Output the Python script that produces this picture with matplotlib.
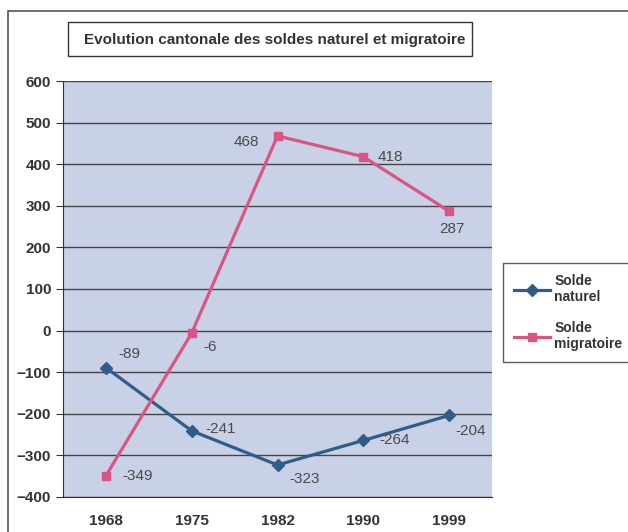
import matplotlib.pyplot as plt
from matplotlib.patches import Rectangle

plt.rcParams['font.family'] = ['Liberation Sans', 'DejaVu Sans']

annees = ['1968', '1975', '1982', '1990', '1999']
solde_naturel = [-89, -241, -323, -264, -204]
solde_migratoire = [-349, -6, 468, 418, 287]

# label offsets in pixels (dx, dy) for each point
off_nat = [(12, 14), (14, 2), (12, -14), (16, 0), (6, -16)]
off_mig = [(16, 0), (12, -14), (-44, -6), (14, 0), (-10, -18)]

W, H = 628, 532
fig = plt.figure(figsize=(W / 100, H / 100), dpi=100)
fig.patch.set_facecolor('white')

# outer frame
fig.patches.append(Rectangle((8 / W, -0.01), 1.0, 1 - 11 / H + 0.01,
                             transform=fig.transFigure, fill=False,
                             edgecolor='#555555', linewidth=1.2))
# title box
fig.patches.append(Rectangle((68 / W, 1 - 56 / H), (472 - 68) / W, 34 / H,
                             transform=fig.transFigure, fill=False,
                             edgecolor='#333333', linewidth=1.0))
fig.text(275 / W, 1 - 40 / H, 'Evolution cantonale des soldes naturel et migratoire',
         ha='center', va='center', fontsize=11, fontweight='bold', color='#333333')

ax = fig.add_axes([63 / W, 35 / H, (492 - 63) / W, (497 - 81) / H])
ax.set_facecolor('#c9d1e6')

x = list(range(len(annees)))
ax.plot(x, solde_naturel, color='#2f5d88', linewidth=2.3, marker='D', markersize=6,
        label='Solde\nnaturel', zorder=3)
ax.plot(x, solde_migratoire, color='#d95582', linewidth=2.3, marker='s', markersize=6,
        label='Solde\nmigratoire', zorder=3)

for xi, v, o in zip(x, solde_naturel, off_nat):
    ax.annotate(str(v), (xi, v), xytext=o, textcoords='offset pixels',
                ha='left', va='center', fontsize=11, color='#4a4a48')
for xi, v, o in zip(x, solde_migratoire, off_mig):
    ax.annotate(str(v), (xi, v), xytext=o, textcoords='offset pixels',
                ha='left', va='center', fontsize=11, color='#4a4a48')

ax.set_xlim(-0.5, 4.5)
ax.set_ylim(-400, 600)
ax.set_yticks(range(-400, 601, 100))
ax.set_xticks(x)
ax.set_xticklabels(annees)
ax.yaxis.grid(True, color='#444444', linewidth=1)
ax.set_axisbelow(True)
for s in ['top', 'right']:
    ax.spines[s].set_visible(False)
ax.spines['left'].set_color('#333333')
ax.spines['bottom'].set_color('#333333')
ax.tick_params(axis='y', length=5, color='#333333', labelsize=11, labelcolor='#333333')
ax.tick_params(axis='x', length=0, pad=12, labelsize=11, labelcolor='#333333')
for lab in ax.get_xticklabels() + ax.get_yticklabels():
    lab.set_fontweight('bold')

leg = ax.legend(loc='upper left', bbox_to_anchor=(503 / W, 1 - 263 / H),
                bbox_transform=fig.transFigure, frameon=True, fancybox=False,
                edgecolor='#333333', fontsize=10, handlelength=2.6,
                handletextpad=0.3, labelspacing=1.2, borderpad=0.8, borderaxespad=0)
leg.get_frame().set_linewidth(1.0)
for t in leg.get_texts():
    t.set_fontweight('bold')
    t.set_color('#333333')

fig.savefig('out.png', dpi=100)
